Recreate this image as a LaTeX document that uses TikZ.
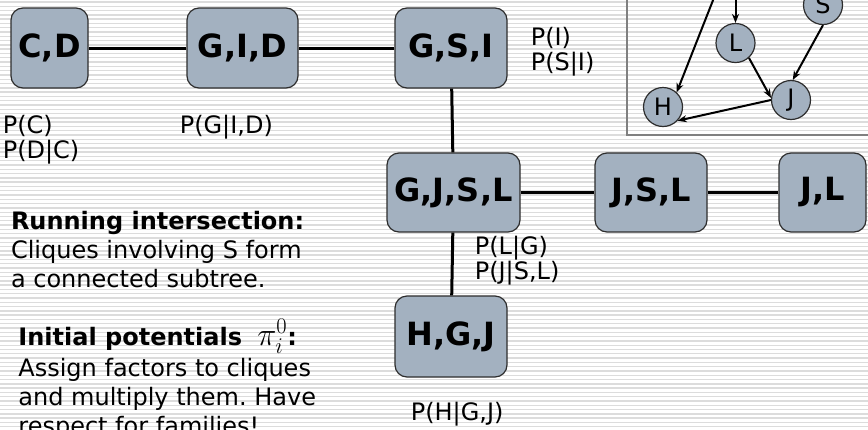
\documentclass[tikz,border=0pt]{standalone}
\usepackage{fontspec}
\setmainfont{DejaVu Sans}
\usepackage{graphicx}
\usepackage{tikz}
\usetikzlibrary{arrows.meta}
\frenchspacing

\definecolor{cliquefill}{RGB}{163,177,192}
\definecolor{edgegray}{RGB}{45,45,45}
\definecolor{stripegray}{RGB}{220,220,220}
\definecolor{framegray}{RGB}{128,128,128}

\begin{document}
\begin{tikzpicture}[x=1pt, y=-1pt,
    clique/.style={draw=edgegray, line width=1.2pt, fill=cliquefill, rounded corners=12pt,
       font=\fontsize{32}{36}\selectfont\bfseries, minimum height=80pt, inner sep=0pt},
    factor/.style={anchor=north west, inner sep=0pt, align=left, font=\fontsize{24}{25}\selectfont},
    remark/.style={anchor=north west, inner sep=0pt, align=left, font=\fontsize{24}{29}\selectfont},
    var/.style={circle, draw=edgegray, line width=1.2pt, fill=cliquefill, minimum size=39pt,
       inner sep=0pt, font=\fontsize{24}{24}\selectfont},
    link/.style={line width=3pt},
    dep/.style={line width=2pt, -{Stealth[length=9pt,width=7pt]}}]
  \clip (0,0) rectangle (868,429);
  % striped slide background
  \fill[white] (0,0) rectangle (868,429);
  \foreach \i in {0,...,100}
    \draw[stripegray, line width=1.4pt] (0,{\i*4.29+2}) -- (868,{\i*4.29+2});

  % clique tree
  \node[clique, minimum width=77pt]  (cd)   at (49.5,48)    {C,D};
  \node[clique, minimum width=111pt] (gid)  at (242.5,48)   {G,I,D};
  \node[clique, minimum width=112pt] (gsi)  at (451,48)     {G,S,I};
  \node[clique, minimum width=133pt, minimum height=79pt] (gjsl) at (453.5,192.5) {G,J,S,L};
  \node[clique, minimum width=112pt, minimum height=79pt] (jsl)  at (651,192.5)   {J,S,L};
  \node[clique, minimum width=87pt,  minimum height=79pt] (jl)   at (822.5,192.5) {J,L};
  \node[clique, minimum width=112pt, minimum height=81pt] (hgj)  at (451,336.5)   {H,G,J};
  \draw[link] (cd) -- (gid);  \draw[link] (gid) -- (gsi);
  \draw[link] (gsi) -- (gjsl);  \draw[link] (gjsl) -- (hgj);
  \draw[link] (gjsl) -- (jsl);  \draw[link] (jsl) -- (jl);

  % factors assigned to the cliques
  \node[factor] (fcd)   at (2.6,115)   {P(C)\\P(D|C)};
  \node[factor] (fgid)  at (179.6,115) {P(G|I,D)};
  \node[factor] (fgsi)  at (530.6,27)  {P(I)\\P(S|I)};
  \node[factor] (fgjsl) at (474.6,236) {P(L|G)\\P(J|S,L)};
  \node[factor] (fhgj)  at (410.6,402) {P(H|G,J)};

  \node[remark] (runint)  at (10.8,211) {\textbf{Running intersection:}\\Cliques involving S form\\a connected subtree.};
  \node[remark] (initpot) at (18.2,319) {\textbf{Initial potentials}\ \ \scalebox{1.3}{$\pi_i^0$}\textbf{:}\\[2pt]Assign factors to cliques\\and multiply them. Have\\respect for families!};

  % part of the network
  \draw[framegray, line width=1.5pt] (627,-5) -- (627,135) -- (875,135);
  \node[var] (h) at (663,107)  {H};
  \node[var] (l) at (735.5,43) {L};
  \node[var] (j) at (791,100)  {J};
  \node[var] (s) at (823,5)    {S};
  \coordinate (gsrc) at (721,-20);
  \coordinate (isrc) at (735.5,-20);
  \draw[dep] (gsrc) -- (h.47);
  \draw[dep] (isrc) -- (l.north);
  \draw[dep] (l.-48) -- (j.174);
  \draw[dep] (s.south) -- (j.85);
  \draw[dep] (j.180) -- (h.-43);
\end{tikzpicture}
\end{document}
